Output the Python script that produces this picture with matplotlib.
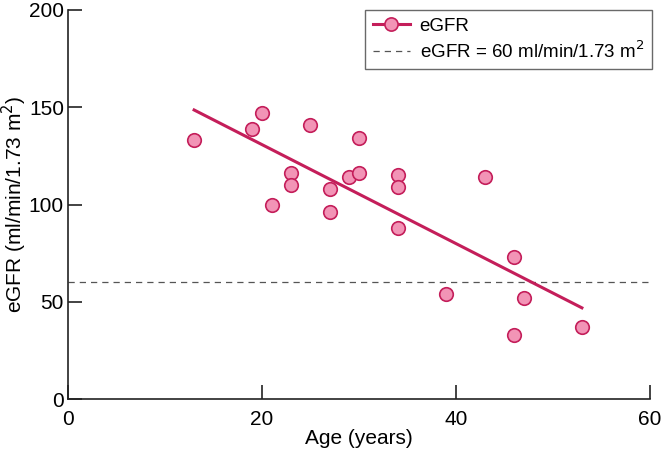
import matplotlib
matplotlib.use('Agg')
import matplotlib.pyplot as plt
import numpy as np

plt.rcParams['font.family'] = ['Liberation Sans', 'DejaVu Sans']

# データ
age = [13, 19, 20, 21, 23, 23, 25, 27, 27, 29, 30, 30, 34, 34, 34, 39, 43, 46, 46, 47, 53]
egfr = [133, 139, 147, 100, 116, 110, 141, 108, 96, 114, 116, 134, 115, 109, 88, 54, 114, 73, 33, 52, 37]
threshold = 60

line_color = '#C41E5A'
face_color = '#F294B6'

fig = plt.figure(figsize=(6.61, 4.54), dpi=100)
ax = fig.add_axes([0.103, 0.121, 0.880, 0.857])

# 回帰直線
slope, intercept = np.polyfit(age, egfr, 1)
xfit = np.array([min(age), max(age)])
ax.plot(xfit, slope * xfit + intercept, color=line_color, linewidth=2.2, zorder=2)
ax.scatter(age, egfr, s=95, facecolor=face_color, edgecolor=line_color, linewidth=1.2, zorder=3)
ax.axhline(threshold, color='#555555', linewidth=0.9, linestyle=(0, (5, 4)), zorder=1)

# 凡例用ハンドル
h1, = ax.plot([], [], color=line_color, linewidth=2.2, marker='o', markersize=9.5,
              markerfacecolor=face_color, markeredgecolor=line_color, markeredgewidth=1.2)
h2, = ax.plot([], [], color='#555555', linewidth=0.9, linestyle=(0, (5, 4)))
leg = ax.legend([h1, h2], ['eGFR', 'eGFR = 60 ml/min/1.73 m$^2$'], loc='upper right',
                bbox_to_anchor=(1.003, 1.0), borderaxespad=0,
                fontsize=13.5, frameon=True, fancybox=False, shadow=False, edgecolor='#444444',
                handlelength=2.0, handletextpad=0.5, borderpad=0.4, labelspacing=0.3)
leg.get_frame().set_linewidth(1.0)

ax.set_xlim(0, 60)
ax.set_ylim(0, 200)
ax.set_xticks([0, 20, 40, 60])
ax.set_yticks([0, 50, 100, 150, 200])
ax.spines['top'].set_visible(False)
ax.spines['right'].set_visible(False)
for s in ['left', 'bottom']:
    ax.spines[s].set_linewidth(1.2)
    ax.spines[s].set_color('#222222')
ax.tick_params(direction='in', length=10, width=1.2, labelsize=15, color='#222222')
ax.tick_params(axis='x', pad=8)
ax.tick_params(axis='y', pad=3)
ax.set_xlabel('Age (years)', fontsize=15, labelpad=0)
ax.set_ylabel('eGFR (ml/min/1.73 m$^2$)', fontsize=15, labelpad=0)

plt.savefig('out.png', dpi=100)
